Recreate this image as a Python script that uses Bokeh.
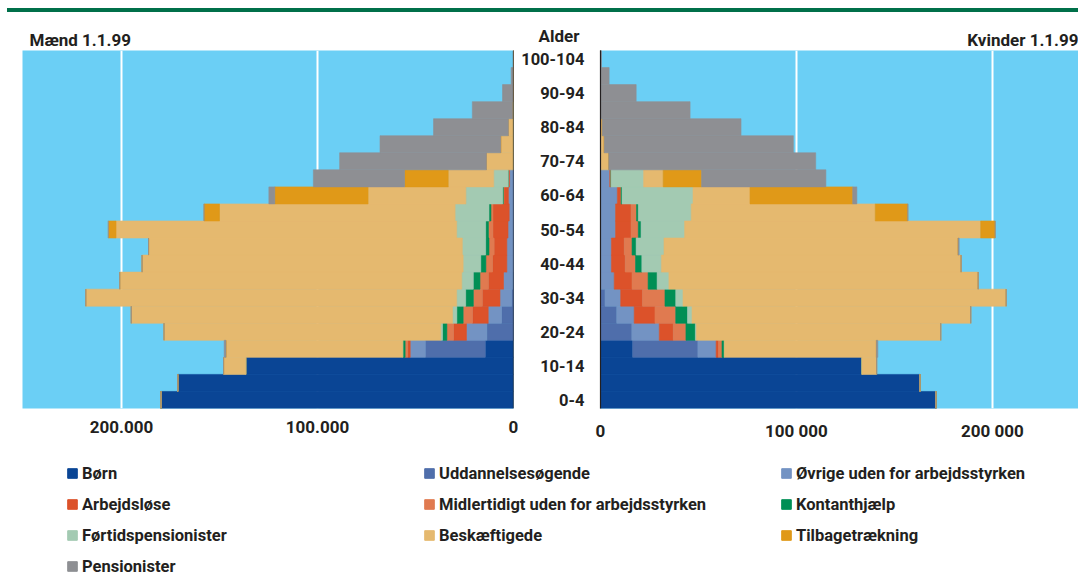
from bokeh.plotting import figure
from bokeh.models import Range1d, FixedTicker, Span, Legend, LegendItem, ColumnDataSource, Div, Title
from bokeh.layouts import column, row
from bokeh.embed import file_html
from bokeh.resources import INLINE
from bokeh.core.properties import value

# ---------------- data (thousands of persons) ----------------
age_groups = ["0-4", "5-9", "10-14", "15-19", "20-24", "25-29", "30-34", "35-39", "40-44",
              "45-49", "50-54", "55-59", "60-64", "65-69", "70-74", "75-79", "80-84",
              "85-89", "90-94", "95-99", "100-104"]
age_tick_idx = [0, 2, 4, 6, 8, 10, 12, 14, 16, 18, 20]

categories = ["Børn", "Uddannelsesøgende", "Øvrige uden for arbejdsstyrken",
              "Arbejdsløse", "Midlertidigt uden for arbejdsstyrken", "Kontanthjælp",
              "Førtidspensionister", "Beskæftigede", "Tilbagetrækning", "Pensionister"]
colors = ["#0A4595", "#4F6EAB", "#7393C3", "#DC522A", "#E07A50", "#008F55",
          "#A3CAB2", "#E5B96F", "#E09918", "#8E8F93"]

# men, index 0 = "0-4" ... 20 = "100-104"
men_born = [179.8, 171.3, 136.6, 14.4, 0, 0, 0, 0, 0, 0, 0, 0, 0, 0, 0, 0, 0, 0, 0, 0, 0]
men_udd = [0, 0, 0, 30.6, 13.6, 6.1, 0.9, 0.3, 0, 0, 0, 0, 0, 0, 0, 0, 0, 0, 0, 0, 0]
men_ovr = [0, 0, 0, 7.7, 10.4, 6.8, 6.0, 4.8, 3.4, 3.4, 2.8, 2.2, 2.6, 2.0, 0, 0, 0, 0, 0, 0, 0]
men_arbl = [0, 0, 0, 1.3, 6.6, 8.0, 9.0, 7.7, 7.3, 6.5, 7.7, 8.3, 2.3, 0.7, 0, 0, 0, 0, 0, 0, 0]
men_midl = [0, 0, 0, 1.3, 3.4, 4.8, 4.6, 4.3, 3.4, 2.6, 2.3, 1.0, 0.3, 0, 0, 0, 0, 0, 0, 0, 0]
men_kont = [0, 0, 0, 1.2, 2.2, 3.2, 3.9, 3.4, 2.6, 1.7, 1.4, 1.0, 0.3, 0, 0, 0, 0, 0, 0, 0, 0]
men_fort = [0, 0, 0, 0, 0.9, 2.2, 4.6, 5.9, 9.0, 11.9, 14.8, 17.3, 18.8, 7.4, 0, 0, 0, 0, 0, 0, 0]
men_besk = [0, 0, 11.3, 90.2, 141.2, 163.9, 189.2, 174.5, 163.8, 160.1, 173.8, 120.2, 49.9, 23.2,
            13.8, 6.5, 2.6, 0.5, 0, 0, 0]
men_tilb = [0, 0, 0, 0, 0, 0, 0, 0, 0, 0, 3.9, 7.9, 47.6, 22.3, 0, 0, 0, 0, 0, 0, 0]
men_pens = [0, 0, 0, 0.9, 0, 0, 0, 0, 0, 0, 0, 0, 3.0, 46.5, 74.9, 61.6, 38.2, 20.5, 5.6, 1.2, 0.1]

# women
wom_born = [171.1, 163.0, 133.4, 16.4, 0, 0, 0, 0, 0, 0, 0, 0, 0, 0, 0, 0, 0, 0, 0, 0, 0]
wom_udd = [0, 0, 0, 33.3, 16.0, 8.3, 2.3, 0, 0, 0, 0, 0, 0, 0, 0, 0, 0, 0, 0, 0, 0]
wom_ovr = [0, 0, 0, 9.3, 14.0, 8.9, 8.0, 7.0, 5.6, 5.6, 7.7, 7.7, 8.6, 4.7, 0, 0, 0, 0, 0, 0, 0]
wom_arbl = [0, 0, 0, 1.2, 7.1, 10.6, 11.1, 9.1, 7.0, 6.5, 7.9, 7.9, 1.9, 0.7, 0, 0, 0, 0, 0, 0, 0]
wom_midl = [0, 0, 0, 1.8, 6.5, 10.6, 11.5, 8.2, 5.3, 4.0, 3.7, 2.8, 0, 0, 0, 0, 0, 0, 0, 0, 0]
wom_kont = [0, 0, 0, 1.2, 4.8, 6.0, 5.5, 4.6, 3.2, 2.1, 1.4, 0.9, 0.5, 0, 0, 0, 0, 0, 0, 0, 0]
wom_fort = [0, 0, 0, 0, 0.5, 2.3, 3.7, 6.0, 10.0, 14.2, 22.2, 27.0, 36.2, 16.6, 0, 0, 0, 0, 0, 0, 0]
wom_besk = [0, 0, 7.5, 77.6, 124.7, 142.2, 164.9, 157.8, 152.9, 150.1, 151.1, 93.9, 29.1, 10.0,
            4.2, 1.9, 0.9, 0, 0, 0, 0]
wom_tilb = [0, 0, 0, 0, 0, 0, 0, 0, 0, 0, 7.4, 16.6, 52.4, 19.6, 0, 0, 0, 0, 0, 0, 0]
wom_pens = [0, 0, 0, 0.7, 0, 0, 0, 0, 0, 0.5, 0, 0, 2.1, 63.4, 105.6, 96.5, 70.8, 45.7, 18.2, 4.4, 0.5]

x_ticks = [0, 100, 200]
men_tick_labels = ["0", "100.000", "200.000"]
wom_tick_labels = ["0", "100 000", "200 000"]

# ---------------- styling ----------------
FONT = "Roboto"
TXT = "#231F20"
SKY = "#6BCFF5"
GREEN = "#00704A"
FS = "17px"

keys = ["born", "udd", "ovr", "arbl", "midl", "kont", "fort", "besk", "tilb", "pens"]
ypos = list(range(len(age_groups)))
men_src = ColumnDataSource(dict(y=ypos, born=men_born, udd=men_udd, ovr=men_ovr, arbl=men_arbl,
                                midl=men_midl, kont=men_kont, fort=men_fort, besk=men_besk,
                                tilb=men_tilb, pens=men_pens))
wom_src = ColumnDataSource(dict(y=ypos, born=wom_born, udd=wom_udd, ovr=wom_ovr, arbl=wom_arbl,
                                midl=wom_midl, kont=wom_kont, fort=wom_fort, besk=wom_besk,
                                tilb=wom_tilb, pens=wom_pens))

TOP_H = 438
FR_TOP = 38
FR_BOT = 42


def style_xaxis(p, labels):
    ax = p.xaxis[0]
    ax.ticker = FixedTicker(ticks=x_ticks)
    ax.major_label_overrides = {t: l for t, l in zip(x_ticks, labels)}
    ax.axis_line_color = None
    ax.major_tick_line_color = None
    ax.minor_tick_line_color = None
    ax.major_tick_out = 0
    ax.major_tick_in = 0
    ax.major_label_standoff = 12
    ax.major_label_text_font = FONT
    ax.major_label_text_font_size = FS
    ax.major_label_text_font_style = "bold"
    ax.major_label_text_color = TXT
    p.xgrid.grid_line_color = "white"
    p.xgrid.grid_line_width = 2
    p.ygrid.visible = False


def make_title(text, align, offset, standoff):
    return Title(text=text, align=align, offset=offset, standoff=standoff, text_font=FONT,
                 text_font_size=FS, text_font_style="bold", text_color=TXT)


# ---------------- men ----------------
pm = figure(width=518, height=TOP_H, x_range=Range1d(250.5, 0), y_range=Range1d(-0.5, 20.5),
            toolbar_location=None, output_backend="svg", y_axis_location=None,
            min_border_left=22, min_border_right=5, min_border_top=FR_TOP,
            min_border_bottom=FR_BOT, background_fill_color=SKY, outline_line_color=None)
pm.hbar_stack(keys, y="y", height=1.0, color=colors, line_width=0.6, source=men_src)
style_xaxis(pm, men_tick_labels)
pm.add_layout(make_title("Mænd 1.1.99", "left", 7, 1), "above")
pm.add_layout(Span(location=0, dimension="height", line_color=TXT, line_width=1.2))

# ---------------- women ----------------
pw = figure(width=560, height=TOP_H, x_range=Range1d(0, 243.9), y_range=Range1d(-0.5, 20.5),
            toolbar_location=None, output_backend="svg",
            min_border_left=82, min_border_right=0, min_border_top=FR_TOP,
            min_border_bottom=FR_BOT, background_fill_color=SKY, outline_line_color=None)
pw.hbar_stack(keys, y="y", height=1.0, color=colors, line_width=0.6, source=wom_src)
style_xaxis(pw, wom_tick_labels)
pw.add_layout(make_title("Kvinder 1.1.99", "right", 0, 1), "above")
pw.add_layout(make_title("Alder", "left", -62, -36), "above")
ya = pw.yaxis[0]
ya.ticker = FixedTicker(ticks=age_tick_idx)
ya.major_label_overrides = {i: age_groups[i] for i in age_tick_idx}
ya.axis_line_color = TXT
ya.axis_line_width = 1.2
ya.major_tick_line_color = None
ya.minor_tick_line_color = None
ya.major_tick_out = 0
ya.major_tick_in = 0
ya.major_label_standoff = 16
ya.major_label_text_font = FONT
ya.major_label_text_font_size = "16.5px"
ya.major_label_text_font_style = "bold"
ya.major_label_text_color = TXT

# ---------------- top green rule ----------------
bar = Div(text="", width=1071, height=4, margin=(8, 0, 0, 7),
          styles={"background-color": GREEN})

# ---------------- legend ----------------
lg = figure(width=1078, height=130, toolbar_location=None, output_backend="svg",
            x_range=Range1d(0, 1), y_range=Range1d(0, 1),
            x_axis_location=None, y_axis_location=None, min_border_left=66,
            min_border_top=13, min_border_right=0, min_border_bottom=0,
            outline_line_color=None)
lg.grid.visible = False
nan = float("nan")
items = []
for cat, col in zip(categories, colors):
    r = lg.quad(left=[nan], right=[nan], top=[nan], bottom=[nan], fill_color=col, line_color=col)
    items.append(LegendItem(label=value(cat), renderers=[r]))
legend = Legend(items=items, location="top_left", orientation="horizontal", ncols=3,
                margin=0, padding=0, spacing=11, glyph_width=12, glyph_height=12,
                label_standoff=4, label_width=330, label_height=20,
                border_line_color=None, background_fill_alpha=0,
                label_text_font=FONT, label_text_font_size="16.5px",
                label_text_font_style="bold", label_text_color=TXT)
lg.add_layout(legend)

layout = column(bar, row(pm, pw, spacing=0), lg, spacing=0)
open("out.html", "w").write(file_html(layout, INLINE))
